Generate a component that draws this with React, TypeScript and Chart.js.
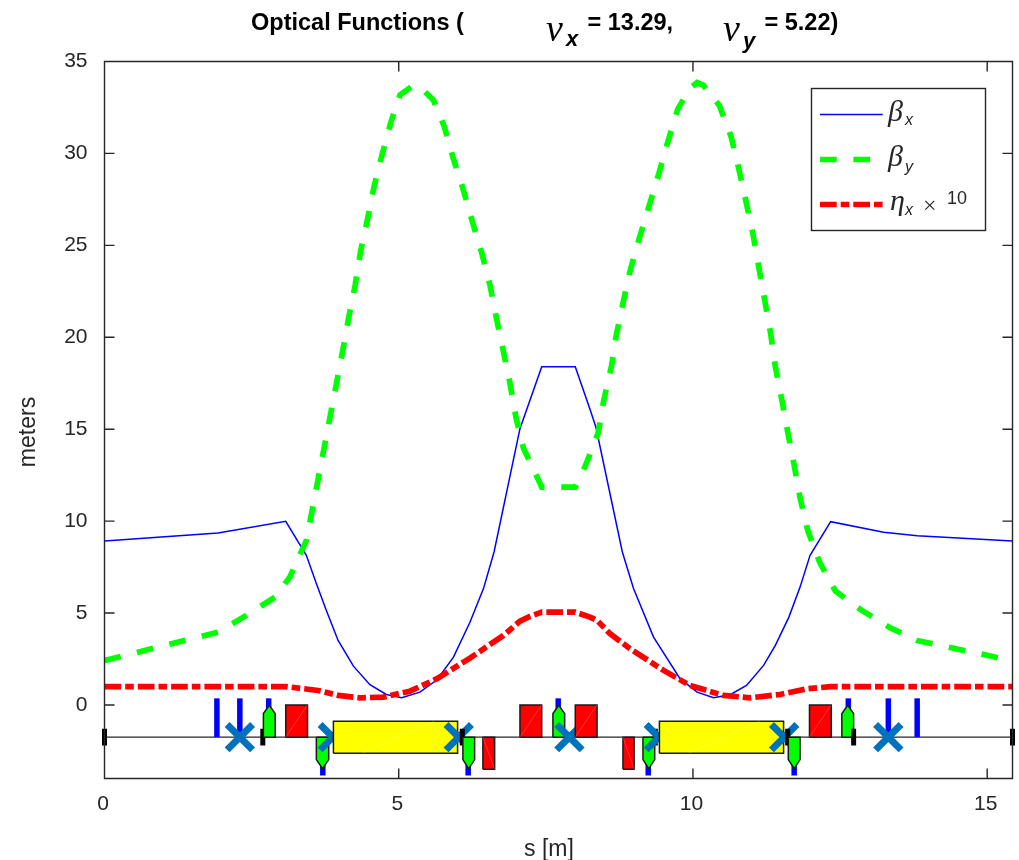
import React, { useEffect, useRef } from "react";
import { Chart, registerables } from "chart.js";

Chart.register(...registerables);

const xTicks = [0, 5, 10, 15];
const yTicks = [0, 5, 10, 15, 20, 25, 30, 35];

const betaXS = [0, 1.93, 3.08, 3.43, 3.6, 3.77, 3.97, 4.23, 4.51, 4.79, 5.05, 5.36, 5.65, 5.93, 6.21, 6.44, 6.62, 7.06, 7.43, 8.0, 8.25, 8.35, 8.8, 8.99, 9.33, 9.78, 10.07, 10.35, 10.63, 10.91, 11.2, 11.4, 11.63, 11.82, 11.99, 12.34, 13.24, 13.81, 15.43];
const betaXV = [8.92, 9.35, 9.99, 8.14, 6.6, 5.14, 3.51, 2.11, 1.1, 0.57, 0.39, 0.7, 1.37, 2.6, 4.5, 6.33, 8.32, 15.03, 18.4, 18.4, 16.08, 15.12, 8.32, 6.33, 3.69, 1.43, 0.7, 0.39, 0.56, 1.06, 2.15, 3.24, 4.78, 6.41, 8.14, 9.97, 9.4, 9.21, 8.92];

const betaYS = [0, 1.93, 2.41, 2.9, 3.15, 3.43, 3.54, 4.05, 4.15, 4.26, 4.35, 4.47, 4.58, 4.72, 4.87, 5.02, 5.22, 5.35, 5.59, 5.77, 5.92, 6.09, 6.25, 6.41, 6.55, 6.66, 6.78, 6.89, 6.99, 7.12, 7.37, 7.43, 8.0, 8.17, 8.39, 8.48, 8.62, 8.69, 8.81, 8.93, 9.09, 9.26, 9.42, 9.57, 9.74, 9.95, 10.07, 10.18, 10.45, 10.65, 10.78, 10.9, 11.02, 11.12, 11.22, 11.32, 11.4, 11.51, 11.61, 11.72, 11.82, 11.95, 12.15, 12.42, 12.87, 13.35, 13.81, 14.43, 15.0, 15.43];
const betaYV = [2.42, 3.96, 4.87, 5.87, 6.96, 8.95, 10.77, 19.3, 21.08, 22.84, 24.65, 26.43, 28.19, 29.97, 31.73, 33.18, 33.63, 33.65, 32.9, 31.5, 29.8, 28.1, 26.3, 24.6, 22.84, 21.04, 19.2, 17.5, 15.67, 13.96, 12.27, 11.85, 11.85, 13.0, 14.8, 16.5, 18.5, 20.0, 21.85, 23.6, 25.4, 27.2, 28.9, 30.6, 32.4, 33.55, 33.85, 33.7, 32.6, 30.9, 29.15, 27.4, 25.6, 23.8, 22.0, 20.2, 18.4, 16.6, 14.85, 13.04, 11.26, 9.5, 7.78, 6.2, 5.14, 4.2, 3.51, 3.08, 2.7, 2.38];

const etaXS = [0, 3.08, 3.63, 3.97, 4.34, 4.74, 5.19, 5.65, 6.21, 6.78, 7.06, 7.23, 7.43, 8.0, 8.25, 8.37, 8.59, 8.93, 9.5, 9.95, 10.52, 10.97, 11.48, 11.94, 12.34, 15.43];
const etaXV = [1.0, 1.0, 0.79, 0.52, 0.39, 0.43, 0.75, 1.43, 2.55, 3.78, 4.56, 4.82, 5.05, 5.05, 4.78, 4.6, 3.88, 3.06, 1.88, 1.06, 0.52, 0.39, 0.57, 0.88, 1.0, 1.0];

const axisLevel = -1.75;
const markerS = [0, 2.69, 6.08, 9.36, 11.61, 12.73, 15.43];
const markerTop = -1.3;
const markerBottom = -2.2;
const barUpS = [1.91, 2.3, 2.79, 7.71, 12.64, 13.32, 13.81];
const barDownS = [3.71, 6.18, 9.24, 11.72];
const barTop = 0.36;
const barBottom = -3.84;
const crossS = [2.3, 3.88, 6.02, 7.9, 9.42, 11.55, 13.32];
const focusStart = [2.7, 7.62, 12.53];
const focusEnd = [2.9, 7.82, 12.73];
const defocusStart = [3.6, 6.09, 9.15, 11.62];
const defocusEnd = [3.81, 6.29, 9.35, 11.82];
const sextUpShoulder = -0.47;
const sextUpApex = -0.02;
const sextDownShoulder = -2.97;
const sextDownApex = -3.46;
const redUpStart = [3.08, 7.06, 8.0, 11.98];
const redUpEnd = [3.45, 7.43, 8.37, 12.35];
const redDownStart = [6.43, 8.81];
const redDownEnd = [6.63, 9.0];
const redTop = 0.0;
const redBottom = -3.5;
const dipoleStart = [3.89, 9.43];
const dipoleEnd = [6.0, 11.54];
const dipoleTop = -0.88;
const dipoleBottom = -2.62;

type Pt = { x: number; y: number };
const zip = (s: number[], v: number[]): Pt[] => s.map((x, i) => ({ x, y: v[i] }));

const polyItem = (key: number, pts: Pt[], fillColor: string, diag?: Pt[]) => {
  const items: any[] = [
    {
      key,
      ds: {
        data: [...pts, pts[0]],
        showLine: true,
        borderColor: "#1a1a1a",
        borderWidth: 1.5,
        pointRadius: 0,
        polyFill: fillColor,
        clip: false,
      },
    },
  ];
  if (diag) {
    items.push({
      key: key + 0.0001,
      ds: {
        data: diag,
        showLine: true,
        borderColor: "rgba(255,255,255,0.25)",
        borderWidth: 0.8,
        pointRadius: 0,
        clip: false,
      },
    });
  }
  return items;
};

const buildLattice = () => {
  let items: any[] = [];
  const line = (key: number, pts: Pt[], color: string, width: number) =>
    items.push({
      key,
      ds: { data: pts, showLine: true, borderColor: color, borderWidth: width, pointRadius: 0, clip: false },
    });
  line(-3, [{ x: 0, y: axisLevel }, { x: 15.43, y: axisLevel }], "#262626", 1.4);
  barUpS.forEach((s) => line(-2, [{ x: s, y: axisLevel }, { x: s, y: barTop }], "#0000ff", 5.5));
  barDownS.forEach((s) => line(-2, [{ x: s, y: axisLevel }, { x: s, y: barBottom }], "#0000ff", 5.5));
  markerS.forEach((s) => line(s, [{ x: s, y: markerTop }, { x: s, y: markerBottom }], "#000000", 5));
  focusStart.forEach((a, i) => {
    const b = focusEnd[i];
    items = items.concat(
      polyItem(a, [
        { x: a, y: axisLevel },
        { x: a, y: sextUpShoulder },
        { x: (a + b) / 2, y: sextUpApex },
        { x: b, y: sextUpShoulder },
        { x: b, y: axisLevel },
      ], "#00ff00")
    );
  });
  defocusStart.forEach((a, i) => {
    const b = defocusEnd[i];
    items = items.concat(
      polyItem(a, [
        { x: a, y: axisLevel },
        { x: a, y: sextDownShoulder },
        { x: (a + b) / 2, y: sextDownApex },
        { x: b, y: sextDownShoulder },
        { x: b, y: axisLevel },
      ], "#00ff00")
    );
  });
  const rect = (a: number, b: number, top: number, bottom: number, color: string, diag: Pt[]) => {
    items = items.concat(
      polyItem(a, [
        { x: a, y: bottom },
        { x: a, y: top },
        { x: b, y: top },
        { x: b, y: bottom },
      ], color, diag)
    );
  };
  redUpStart.forEach((a, i) =>
    rect(a, redUpEnd[i], redTop, axisLevel, "#ff0000", [{ x: a, y: axisLevel }, { x: redUpEnd[i], y: redTop }])
  );
  redDownStart.forEach((a, i) =>
    rect(a, redDownEnd[i], axisLevel, redBottom, "#ff0000", [{ x: a, y: axisLevel }, { x: redDownEnd[i], y: redBottom }])
  );
  dipoleStart.forEach((a, i) =>
    rect(a, dipoleEnd[i], dipoleTop, dipoleBottom, "#ffff00", [{ x: a + 0.5, y: dipoleBottom }, { x: dipoleEnd[i] - 0.4, y: dipoleTop }])
  );
  crossS.forEach((s) =>
    items.push({
      key: s,
      ds: {
        data: [{ x: s, y: axisLevel }],
        showLine: false,
        pointStyle: "crossRot",
        pointRadius: 18,
        pointBorderWidth: 7,
        pointBorderColor: "#0072BD",
        pointBackgroundColor: "#0072BD",
        clip: false,
      },
    })
  );
  items.sort((p, q) => p.key - q.key);
  return items;
};

const polyFillPlugin = {
  id: "polyFill",
  beforeDatasetDraw(chart: any, args: any) {
    const ds = chart.data.datasets[args.index];
    if (!ds.polyFill) return;
    const pts = chart.getDatasetMeta(args.index).data;
    const ctx = chart.ctx;
    ctx.save();
    ctx.beginPath();
    pts.forEach((p: any, i: number) => (i ? ctx.lineTo(p.x, p.y) : ctx.moveTo(p.x, p.y)));
    ctx.closePath();
    ctx.fillStyle = ds.polyFill;
    ctx.fill();
    ctx.restore();
  },
};

const text = (ctx: any, s: string, x: number, y: number, font: string, color = "#000000", align = "left") => {
  ctx.font = font;
  ctx.fillStyle = color;
  ctx.textAlign = align;
  ctx.textBaseline = "alphabetic";
  ctx.fillText(s, x, y);
};

const framePlugin = {
  id: "frame",
  afterDatasetsDraw(chart: any) {
    const { ctx, chartArea: a, scales } = chart;
    ctx.save();
    ctx.strokeStyle = "#262626";
    ctx.lineWidth = 1.4;
    ctx.beginPath();
    ctx.rect(a.left, a.top, a.right - a.left, a.bottom - a.top);
    const tl = 10;
    xTicks.forEach((t) => {
      const x = scales.x.getPixelForValue(t);
      ctx.moveTo(x, a.bottom);
      ctx.lineTo(x, a.bottom - tl);
      ctx.moveTo(x, a.top);
      ctx.lineTo(x, a.top + tl);
    });
    yTicks.forEach((t) => {
      const y = scales.y.getPixelForValue(t);
      ctx.moveTo(a.left, y);
      ctx.lineTo(a.left + tl, y);
      ctx.moveTo(a.right, y);
      ctx.lineTo(a.right - tl, y);
    });
    ctx.stroke();

    // legend box
    ctx.fillStyle = "#ffffff";
    ctx.fillRect(811.5, 88.5, 174, 142);
    ctx.strokeRect(811.5, 88.5, 174, 142);
    const row = (y: number, color: string, width: number, dash: number[]) => {
      ctx.beginPath();
      ctx.setLineDash(dash);
      ctx.strokeStyle = color;
      ctx.lineWidth = width;
      ctx.moveTo(820, y);
      ctx.lineTo(882.7, y);
      ctx.stroke();
      ctx.setLineDash([]);
    };
    row(114.5, "#0000ff", 1.5, []);
    row(159.5, "#00ff00", 5.7, [16.7, 16.7]);
    row(204.5, "#ff0000", 5.7, [16.7, 4, 8.6, 4]);
    const greek = "italic 30px 'Liberation Serif'";
    const sub = "italic 16px 'Liberation Sans'";
    text(ctx, "β", 888, 121, greek, "#262626");
    text(ctx, "x", 905, 125, sub, "#262626");
    text(ctx, "β", 888, 166, greek, "#262626");
    text(ctx, "y", 905, 172, sub, "#262626");
    text(ctx, "η", 890, 210, greek, "#262626");
    text(ctx, "x", 905, 215, sub, "#262626");
    text(ctx, "×", 923, 213, "24px 'Liberation Serif'", "#262626");
    text(ctx, "10", 947, 203.5, "18px 'Liberation Sans'", "#262626");

    // title
    const bold = "bold 23.5px 'Liberation Sans'";
    const nu = "italic 38px 'Liberation Serif'";
    const subBold = "italic bold 22px 'Liberation Sans'";
    text(ctx, "Optical Functions (", 251, 30, bold);
    text(ctx, "ν", 546, 41, nu);
    text(ctx, "x", 566, 46, subBold);
    text(ctx, "= 13.29,", 587.5, 30, bold);
    text(ctx, "ν", 723, 41, nu);
    text(ctx, "y", 743, 48, subBold);
    text(ctx, "= 5.22)", 764.5, 30, bold);

    // axis titles
    text(ctx, "s [m]", 549, 856, "23px 'Liberation Sans'", "#262626", "center");
    ctx.translate(35, 432);
    ctx.rotate(-Math.PI / 2);
    text(ctx, "meters", 0, 0, "23px 'Liberation Sans'", "#262626", "center");
    ctx.restore();
  },
};

export default function App() {
  const ref = useRef<HTMLCanvasElement | null>(null);
  useEffect(() => {
    const lattice = buildLattice().map((i) => i.ds);
    const curves: any[] = [
      { data: zip(betaXS, betaXV), showLine: true, borderColor: "#0000ff", borderWidth: 1.5, pointRadius: 0 },
      { data: zip(betaYS, betaYV), showLine: true, borderColor: "#00ff00", borderWidth: 5.7, pointRadius: 0, borderDash: [16.7, 16.7] },
      { data: zip(etaXS, etaXV), showLine: true, borderColor: "#ff0000", borderWidth: 5.7, pointRadius: 0, borderDash: [16.7, 4, 8.6, 4] },
    ];
    const all = [...curves, ...lattice];
    const n = all.length;
    // Chart.js paints higher `order` first, so this keeps the list's sequence as paint sequence.
    const datasets = all.map((d, i) => ({ ...d, order: n - i, tension: 0 }));
    const chart = new Chart(ref.current as HTMLCanvasElement, {
      type: "scatter",
      data: { datasets },
      plugins: [polyFillPlugin, framePlugin],
      options: {
        animation: false,
        responsive: false,
        devicePixelRatio: 1,
        layout: { autoPadding: false, padding: { top: 61.5, right: 6.5, left: 0, bottom: 0 } },
        plugins: { legend: { display: false }, tooltip: { enabled: false }, title: { display: false } },
        scales: {
          x: {
            type: "linear",
            min: 0,
            max: 15.43,
            afterBuildTicks: (s: any) => { s.ticks = xTicks.map((value) => ({ value })); },
            afterFit: (s: any) => { s.height = 81.5; s.paddingLeft = 0; s.paddingRight = 0; },
            grid: { display: false, drawTicks: false },
            border: { display: false },
            ticks: { padding: 13, labelOffset: -1.5, autoSkip: false, maxRotation: 0, color: "#262626", font: { family: "Liberation Sans", size: 21 } },
          },
          y: {
            type: "linear",
            min: -4,
            max: 35,
            afterBuildTicks: (s: any) => { s.ticks = yTicks.map((value) => ({ value })); },
            afterFit: (s: any) => { s.width = 104.5; s.paddingTop = 0; s.paddingBottom = 0; },
            grid: { display: false, drawTicks: false },
            border: { display: false },
            ticks: { padding: 17, autoSkip: false, color: "#262626", font: { family: "Liberation Sans", size: 21 } },
          },
        },
      } as any,
    } as any);
    return () => chart.destroy();
  }, []);
  return (
    <div style={{ position: "fixed", left: 0, top: 0, width: 1019, height: 860, background: "#ffffff" }}>
      <canvas ref={ref} width={1019} height={860} style={{ display: "block" }} />
    </div>
  );
}
